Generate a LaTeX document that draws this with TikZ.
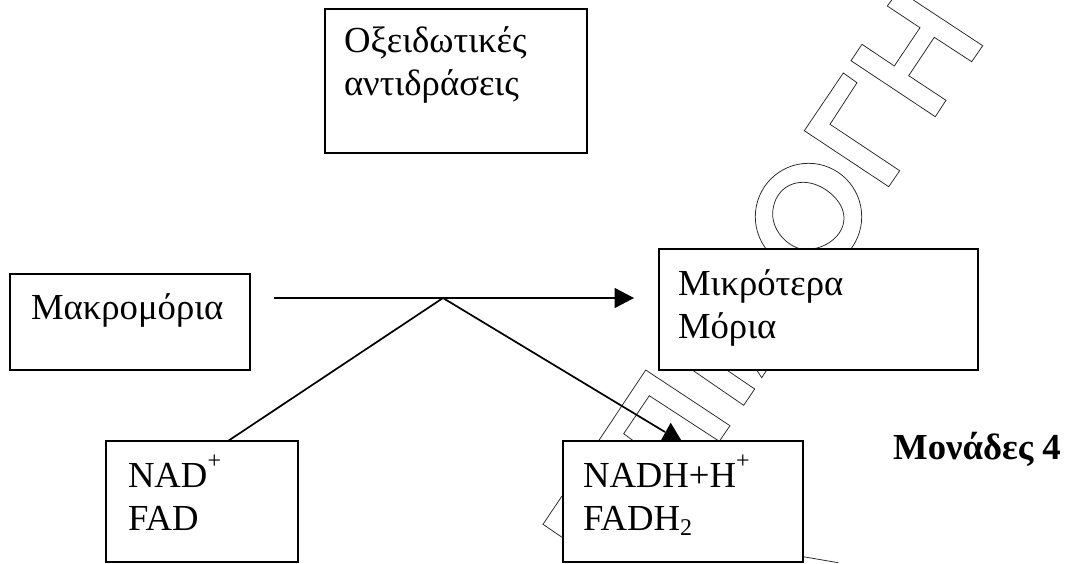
\documentclass[tikz,border=0pt]{standalone}
\usepackage{fontspec}
\setmainfont{Liberation Serif}
\usetikzlibrary{arrows.meta}
\newcommand{\supplus}{\raisebox{18.5pt}{\fontsize{24}{24}\selectfont +}}
\newcommand{\subtwo}{\raisebox{-5pt}{\fontsize{24}{24}\selectfont 2}}
\tikzset{
  x=1pt,y=-1pt,
  txt/.style={font=\fontsize{36.7}{43}\selectfont},
  txtbox/.style={draw=black,fill=white,line width=1.8pt,anchor=north west,inner ysep=0pt,align=left,txt,outer sep=0pt},
  link/.style={line width=1.7pt,draw=black},
  ghost/.style={line width=0.75pt,draw=black!85},
  head/.style={fill=black,draw=none}
}
\begin{document}
\begin{tikzpicture}
\useasboundingbox (0,0) rectangle (1069,563);
% watermark outlines
\draw[ghost] (891.7,0) -- (887.3,6) -- (920,27.7) -- (894.3,66) -- (862,44.3) -- (851,60.7) -- (935.3,116.7) -- (946,100.3) -- (908.7,75.7) -- (934.3,37.3) -- (971.7,61.7) -- (982.7,45.7) -- (913.3,0);
\draw[ghost] (843.3,73) -- (857,82.7) -- (830,124.3) -- (899.7,170.7) -- (888.7,186.7) -- (804.3,130.7) -- cycle;
\draw[ghost] (808.5,216.7) ellipse [x radius=53.2,y radius=53.4];
\draw[ghost] (803.3,182.3) .. controls (822,182.3) and (844,200) .. (844,218) .. controls (844,236) and (825,249.5) .. (806,249.5) .. controls (790,249.5) and (772.7,232) .. (772.7,214.5) .. controls (772.7,196) and (785,182.3) .. (803.3,182.3) -- cycle;
\draw[ghost] (598.3,441.3) -- (645.7,370) -- (730,425.7) -- (719.3,441.3);
\draw[ghost] (634,441.3) -- (623.7,433.7) -- (649.3,395.7) -- (719.3,441.3);
\draw[ghost] (692.3,370) -- (743.7,405.3) -- (754.7,389) -- (726.7,370);
\draw[ghost] (756.7,370) -- (761.7,377.7) -- (766.7,370);
\draw[ghost] (562,496) -- (543,524.3) -- (562,537.3);
\draw[ghost] (803.3,556.7) -- (838.3,562.7);
% connector points
\coordinate (junction) at (443,298);
\coordinate (arrowstart) at (274,298);
\coordinate (arrowend) at (634,298);
\coordinate (nadtop) at (228,441);
\coordinate (tipend) at (665,432);
\coordinate (tipapex) at (670.7,422.7);
\coordinate (tipleft) at (660,442);
\coordinate (tipright) at (682.3,442);
% connectors
\draw[link,-{Triangle[length=19.5pt,width=20pt]}] (arrowstart) -- (arrowend);
\draw[link] (nadtop) -- (junction) -- (tipend);
\fill[head] (tipapex) -- (tipleft) -- (tipright) -- cycle;
% boxes
\node[txtbox,inner xsep=19pt,text width=224pt,text height=43pt,text depth=101pt] (oxid) at (325,9) {Οξειδωτικές\\αντιδράσεις};
\node[txtbox,inner xsep=21pt,text width=198pt,text height=45pt,text depth=51pt] (macro) at (10,274) {Μακρομόρια};
\node[txtbox,inner xsep=19pt,text width=281pt,text height=46pt,text depth=75pt] (small) at (659,249) {Μικρότερα\\Μόρια};
\node[txtbox,inner xsep=22pt,text width=148pt,text height=46pt,text depth=75pt] (nad) at (106,441) {NAD\supplus\\FAD};
\node[txtbox,inner xsep=20pt,text width=200pt,text height=46pt,text depth=75pt] (nadh) at (563,441) {NADH+H\supplus\\FADH\subtwo};
\node[anchor=base west,inner sep=0pt,font=\fontsize{36.7}{44}\selectfont\bfseries] (units) at (893,459) {Μονάδες 4};
\end{tikzpicture}
\end{document}
